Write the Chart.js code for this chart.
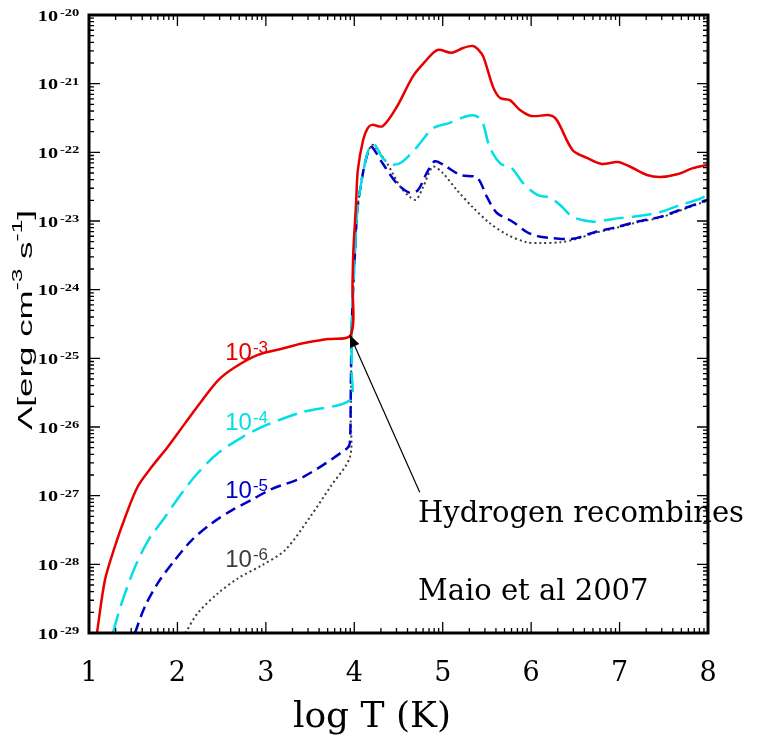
<!DOCTYPE html>
<html><head><meta charset="utf-8">
<script src="https://cdn.jsdelivr.net/npm/chart.js@4/dist/chart.umd.min.js"></script>
<style>html,body{margin:0;padding:0;background:#fff}</style>
</head><body>
<canvas id="c" width="761" height="742"></canvas>
<script>
// ---- data (x = log T, y = log10 Lambda) ----
const xTickLabels = ['1','2','3','4','5','6','7','8'];
const xTitle = 'log T (K)';
const yTickExponents = [-29,-28,-27,-26,-25,-24,-23,-22,-21,-20];
const yTickBase = '10';
const yTickExpLabels = ['-29','-28','-27','-26','-25','-24','-23','-22','-21','-20'];
const yTitleParts = [['Λ[erg cm', false], ['-3', true], [' s', false], ['-1', true], [']', false]];
const seriesNames = ['10', '10', '10', '10'];
const seriesExps = ['-3', '-4', '-5', '-6'];

const logT_n3 = [1.09,1.18,1.29,1.41,1.55,1.71,1.89,2.09,2.28,2.46,2.65,2.91,3.18,3.42,3.70,3.96,3.98,3.99,4.02,4.04,4.10,4.15,4.20,4.32,4.48,4.66,4.80,4.94,5.10,5.23,5.34,5.40,5.46,5.57,5.65,5.76,5.87,6.00,6.21,6.29,6.47,6.63,6.80,6.98,7.12,7.31,7.46,7.65,7.83,8.00];
const logL_n3 = [-29,-28.23,-27.75,-27.31,-26.87,-26.58,-26.29,-25.94,-25.61,-25.32,-25.13,-24.95,-24.86,-24.78,-24.72,-24.66,-23.9,-23.42,-22.75,-22.26,-21.82,-21.65,-21.60,-21.62,-21.34,-20.90,-20.68,-20.51,-20.55,-20.48,-20.45,-20.50,-20.61,-21.05,-21.21,-21.24,-21.38,-21.47,-21.46,-21.53,-21.97,-22.08,-22.17,-22.14,-22.21,-22.33,-22.36,-22.32,-22.23,-22.18];

const logT_n4 = [1.27,1.37,1.52,1.67,1.86,2.05,2.23,2.46,2.73,2.99,3.42,3.95,3.97,3.97,3.99,4.01,4.03,4.06,4.12,4.17,4.23,4.32,4.43,4.54,4.71,4.89,5.08,5.23,5.34,5.44,5.53,5.65,5.78,5.91,6.07,6.21,6.33,6.47,6.70,6.93,7.20,7.46,7.68,7.88,8.00];
const logL_n4 = [-29,-28.56,-28.04,-27.65,-27.31,-26.96,-26.67,-26.38,-26.15,-25.98,-25.78,-25.61,-25.2,-24.5,-23.9,-23.42,-22.9,-22.59,-22.16,-21.94,-21.89,-22.08,-22.18,-22.14,-21.92,-21.65,-21.57,-21.49,-21.46,-21.53,-21.92,-22.16,-22.23,-22.45,-22.62,-22.66,-22.77,-22.94,-23.01,-22.97,-22.93,-22.87,-22.77,-22.69,-22.62];

const logT_n5 = [1.52,1.63,1.78,1.97,2.16,2.39,2.62,2.84,3.07,3.42,3.92,3.95,3.96,3.97,3.99,4.01,4.03,4.06,4.12,4.17,4.20,4.32,4.48,4.63,4.72,4.82,4.91,5.03,5.20,5.39,5.50,5.61,5.79,5.95,6.07,6.25,6.47,6.70,6.93,7.20,7.46,7.68,8.00];
const logL_n5 = [-29,-28.62,-28.27,-27.94,-27.65,-27.40,-27.21,-27.06,-26.90,-26.73,-26.31,-26.23,-25.5,-24.6,-23.9,-23.42,-22.9,-22.59,-22.16,-21.95,-21.92,-22.16,-22.45,-22.59,-22.55,-22.30,-22.13,-22.20,-22.33,-22.37,-22.65,-22.88,-23.01,-23.16,-23.22,-23.25,-23.26,-23.17,-23.10,-23.01,-22.94,-22.84,-22.69];

const logT_n6 = [2.09,2.23,2.46,2.69,2.96,3.22,3.50,3.73,3.95,3.96,3.97,3.99,4.01,4.03,4.06,4.12,4.17,4.21,4.37,4.52,4.63,4.70,4.78,4.89,5.00,5.16,5.34,5.53,5.73,5.95,6.10,6.33,6.52,6.70,6.93,7.20,7.46,7.68,8.00];
const logL_n6 = [-29,-28.71,-28.42,-28.20,-28.01,-27.79,-27.31,-26.87,-26.44,-25.9,-24.6,-23.9,-23.42,-22.9,-22.59,-22.16,-21.95,-21.89,-22.16,-22.50,-22.65,-22.69,-22.50,-22.21,-22.30,-22.55,-22.80,-23.03,-23.20,-23.31,-23.32,-23.31,-23.26,-23.18,-23.11,-23.02,-22.95,-22.85,-22.70];

// annotation anchors (log T, log10 Lambda)
const arrowTip = [3.95, -24.66];
const arrowTail = [4.74, -26.95];
const noteText = ['Hydrogen recombines', 'Maio et al 2007'];
const notePos = [[4.72, -27.38], [4.72, -28.52]];
const seriesLabelPos = [[2.54, -25.02], [2.54, -26.04], [2.54, -27.03], [2.54, -28.04]];

const colors = ['#e60000', '#00dfe6', '#0000c8', '#3c3c3c'];

function pts(xs, ys){ return xs.map((v,i)=>({x:v, y:Math.pow(10, ys[i])})); }

const framePlugin = {
  id: 'frame',
  afterDatasetsDraw(chart){
    const {ctx, chartArea:a, scales:{x, y}} = chart;
    ctx.save();
    ctx.strokeStyle = '#000';
    ctx.lineWidth = 1.3;
    ctx.beginPath();
    for (let n = 1; n <= 8; n++){
      for (let k = 1; k <= 9; k++){
        if (n === 8 && k > 1) break;
        const px = x.getPixelForValue(n + Math.log10(k));
        const len = k === 1 ? 11 : 5;
        ctx.moveTo(px, a.bottom); ctx.lineTo(px, a.bottom - len);
        ctx.moveTo(px, a.top); ctx.lineTo(px, a.top + len);
      }
    }
    for (const e of yTickExponents){
      for (let k = 1; k <= 9; k++){
        if (e === -20 && k > 1) break;
        const py = y.getPixelForValue(k * Math.pow(10, e));
        const len = k === 1 ? 11 : 5;
        ctx.moveTo(a.left, py); ctx.lineTo(a.left + len, py);
        ctx.moveTo(a.right, py); ctx.lineTo(a.right - len, py);
      }
    }
    ctx.stroke();
    ctx.lineWidth = 3;
    ctx.strokeRect(a.left, a.top, a.right - a.left, a.bottom - a.top);
    ctx.restore();
  },
  afterDraw(chart){
    const {ctx, chartArea:a, scales:{x, y}} = chart;
    const P = (p)=>[x.getPixelForValue(p[0]), y.getPixelForValue(Math.pow(10, p[1]))];
    ctx.save();
    ctx.fillStyle = '#000';
    // y tick labels: "10" with small superscript exponent
    yTickExponents.forEach((e, i)=>{
      const py = y.getPixelForValue(Math.pow(10, e));
      ctx.save();
      ctx.translate(a.left - 31, py + 5.5);
      ctx.scale(1.35, 1);
      ctx.font = 'bold 15px "Liberation Serif"';
      ctx.textAlign = 'right';
      ctx.textBaseline = 'alphabetic';
      ctx.fillText(yTickBase, 0, 0);
      ctx.restore();
      ctx.save();
      ctx.translate(a.left - 29, py + 1);
      ctx.scale(1.45, 1);
      ctx.font = 'bold 10px "Liberation Serif"';
      ctx.textAlign = 'left';
      ctx.fillText(yTickExpLabels[i], 0, 0);
      ctx.restore();
    });
    // y title (rotated, with superscripts)
    ctx.save();
    const mainF = '20px "Liberation Sans"', supF = '14px "Liberation Sans"';
    let W = 0;
    yTitleParts.forEach(([t, sup])=>{ ctx.font = sup ? supF : mainF; W += ctx.measureText(t).width; });
    const targetLen = 220, f = targetLen / W;
    const yMid = (a.top + a.bottom) / 2 - 4;
    ctx.translate(32, yMid + targetLen / 2);
    ctx.rotate(-Math.PI / 2);
    ctx.scale(f, 1);
    let cx = 0;
    yTitleParts.forEach(([t, sup])=>{
      ctx.font = sup ? supF : mainF;
      ctx.fillText(t, cx, sup ? -10 : 0);
      cx += ctx.measureText(t).width;
    });
    ctx.restore();
    // x title
    ctx.font = '36px "DejaVu Serif"';
    ctx.textAlign = 'center';
    ctx.textBaseline = 'alphabetic';
    ctx.fillText(xTitle, x.getPixelForValue(4.2), 727);
    ctx.textAlign = 'left';
    // series labels
    seriesLabelPos.forEach((p, i)=>{
      const [px, py] = P(p);
      ctx.fillStyle = colors[i];
      ctx.font = '24px "Liberation Sans"';
      ctx.fillText(seriesNames[i], px, py);
      const w = ctx.measureText(seriesNames[i]).width;
      ctx.font = '17px "Liberation Sans"';
      ctx.fillText(seriesExps[i], px + w + 1, py - 7);
    });
    // arrow
    const [tx, ty] = P(arrowTip);
    const [sx, sy] = P(arrowTail);
    ctx.strokeStyle = '#000'; ctx.fillStyle = '#000'; ctx.lineWidth = 1.2;
    ctx.beginPath(); ctx.moveTo(sx, sy); ctx.lineTo(tx, ty); ctx.stroke();
    const ang = Math.atan2(ty - sy, tx - sx);
    const L = 12, Wd = 5;
    ctx.beginPath();
    ctx.moveTo(tx, ty);
    ctx.lineTo(tx - L*Math.cos(ang) + Wd*Math.sin(ang), ty - L*Math.sin(ang) - Wd*Math.cos(ang));
    ctx.lineTo(tx - L*Math.cos(ang) - Wd*Math.sin(ang), ty - L*Math.sin(ang) + Wd*Math.cos(ang));
    ctx.closePath(); ctx.fill();
    // notes
    ctx.font = '29px "DejaVu Serif"';
    noteText.forEach((t, i)=>{
      const [px, py] = P(notePos[i]);
      ctx.fillText(t, px, py);
    });
    ctx.restore();
  }
};

const mk = (label, xs, ys, i, dash, w) => ({
  label, data: pts(xs, ys), borderColor: colors[i], borderWidth: w,
  borderDash: dash, pointRadius: 0, fill: false, tension: 0.3
});

new Chart(document.getElementById('c'), {
  type: 'line',
  data: { datasets: [
    mk('1e-3', logT_n3, logL_n3, 0, [], 2.5),
    mk('1e-4', logT_n4, logL_n4, 1, [20, 8], 2.5),
    mk('1e-5', logT_n5, logL_n5, 2, [11, 6], 2.5),
    mk('1e-6', logT_n6, logL_n6, 3, [2, 3], 2)
  ]},
  options: {
    responsive: false, animation: false, devicePixelRatio: 1,
    layout: { padding: { left: 0, right: 53, top: 15, bottom: 0 } },
    plugins: { legend: { display: false }, tooltip: { enabled: false } },
    scales: {
      x: {
        type: 'linear', min: 1, max: 8,
        grid: { display: false, drawTicks: false }, border: { display: false },
        ticks: { stepSize: 1, padding: 25, color: '#000', font: { family: 'DejaVu Serif', size: 27 },
          callback: (v)=> xTickLabels[Math.round(v) - 1] },
        title: { display: false },
        afterFit: (s)=>{ s.height = 109; }
      },
      y: {
        type: 'logarithmic', min: 1e-29, max: 1e-20,
        grid: { display: false, drawTicks: false }, border: { display: false },
        ticks: { display: false },
        title: { display: false },
        afterFit: (s)=>{ s.width = 89; }
      }
    }
  },
  plugins: [framePlugin]
});
</script>
</body></html>
